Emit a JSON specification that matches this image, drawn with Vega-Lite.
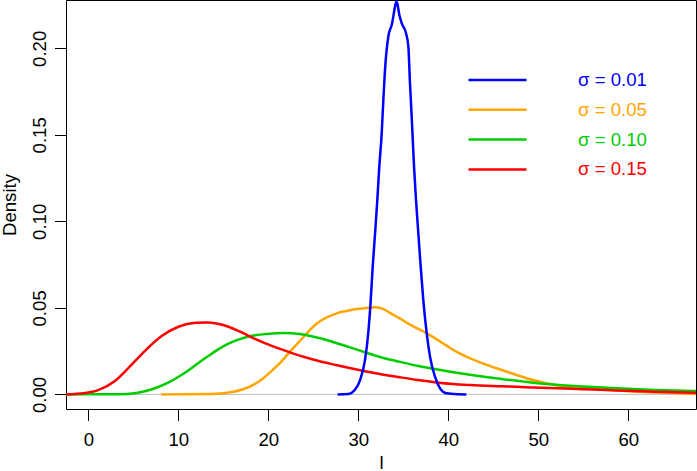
{
  "$schema": "https://vega.github.io/schema/vega-lite/v6.json",
  "width": 630,
  "height": 409,
  "autosize": "none",
  "padding": {"left": 66, "top": 0, "right": 1, "bottom": 62},
  "background": "white",
  "config": {
    "view": {"stroke": "black", "strokeWidth": 1},
    "font": "Liberation Sans",
    "axis": {
      "grid": false,
      "domain": false,
      "ticks": true,
      "tickColor": "black",
      "tickSize": 11.5,
      "tickWidth": 1,
      "labelFont": "Liberation Sans",
      "labelFontSize": 18.6,
      "labelColor": "black",
      "labelFlush": false,
      "labelOverlap": false,
      "labelBound": false,
      "titleFont": "Liberation Sans",
      "titleFontSize": 18.6,
      "titleFontWeight": "normal",
      "titleColor": "black"
    }
  },
  "encoding": {
    "y": {
      "field": "y",
      "type": "quantitative",
      "title": "Density",
      "scale": {"domain": [-0.00844, 0.22792], "nice": false, "zero": false},
      "axis": {
        "values": [0, 0.05, 0.1, 0.15, 0.2],
        "format": ".2f",
        "labelAngle": -90,
        "labelAlign": "center",
        "labelBaseline": "alphabetic",
        "labelPadding": 9.2,
        "titleAngle": -90,
        "titleAlign": "center",
        "titleBaseline": "alphabetic",
        "titleX": -50.5,
        "titleY": 204.5
      }
    }
  },
  "layer": [
    {
      "data": {"values": [{"y": 0}]},
      "mark": {"type": "rule", "color": "#BEBEBE", "strokeWidth": 1},
      "encoding": {}
    },
    {
      "data": {"values": [
        {"s": "σ = 0.05", "x": 8.1, "y": 0},
        {"s": "σ = 0.05", "x": 10, "y": 0.00003},
        {"s": "σ = 0.05", "x": 13.5, "y": 0.0002},
        {"s": "σ = 0.05", "x": 15, "y": 0.0007},
        {"s": "σ = 0.05", "x": 16.1, "y": 0.0015},
        {"s": "σ = 0.05", "x": 17.2, "y": 0.003},
        {"s": "σ = 0.05", "x": 18.3, "y": 0.0054},
        {"s": "σ = 0.05", "x": 19.3, "y": 0.0088},
        {"s": "σ = 0.05", "x": 20.2, "y": 0.0128},
        {"s": "σ = 0.05", "x": 21.5, "y": 0.0192},
        {"s": "σ = 0.05", "x": 22.4, "y": 0.0246},
        {"s": "σ = 0.05", "x": 23.7, "y": 0.032},
        {"s": "σ = 0.05", "x": 24.6, "y": 0.0372},
        {"s": "σ = 0.05", "x": 25.4, "y": 0.041},
        {"s": "σ = 0.05", "x": 26.5, "y": 0.0445},
        {"s": "σ = 0.05", "x": 27.6, "y": 0.0468},
        {"s": "σ = 0.05", "x": 28.7, "y": 0.0482},
        {"s": "σ = 0.05", "x": 29.8, "y": 0.0493},
        {"s": "σ = 0.05", "x": 30.9, "y": 0.0499},
        {"s": "σ = 0.05", "x": 31.9, "y": 0.0503},
        {"s": "σ = 0.05", "x": 32.8, "y": 0.0493},
        {"s": "σ = 0.05", "x": 33.7, "y": 0.0465},
        {"s": "σ = 0.05", "x": 34.6, "y": 0.0439},
        {"s": "σ = 0.05", "x": 35.6, "y": 0.0408},
        {"s": "σ = 0.05", "x": 36.6, "y": 0.038},
        {"s": "σ = 0.05", "x": 37.6, "y": 0.0353},
        {"s": "σ = 0.05", "x": 38.5, "y": 0.0325},
        {"s": "σ = 0.05", "x": 39.4, "y": 0.0296},
        {"s": "σ = 0.05", "x": 40.2, "y": 0.0268},
        {"s": "σ = 0.05", "x": 41.3, "y": 0.0236},
        {"s": "σ = 0.05", "x": 42.5, "y": 0.0207},
        {"s": "σ = 0.05", "x": 43.9, "y": 0.0178},
        {"s": "σ = 0.05", "x": 45.7, "y": 0.0145},
        {"s": "σ = 0.05", "x": 47.6, "y": 0.0112},
        {"s": "σ = 0.05", "x": 49.4, "y": 0.0083},
        {"s": "σ = 0.05", "x": 51.3, "y": 0.006},
        {"s": "σ = 0.05", "x": 53.2, "y": 0.0044},
        {"s": "σ = 0.05", "x": 55, "y": 0.0035},
        {"s": "σ = 0.05", "x": 58, "y": 0.0025},
        {"s": "σ = 0.05", "x": 60.6, "y": 0.0017},
        {"s": "σ = 0.05", "x": 64.3, "y": 0.0009},
        {"s": "σ = 0.05", "x": 67.6, "y": 0.0002},

        {"s": "σ = 0.10", "x": -2.6, "y": 0},
        {"s": "σ = 0.10", "x": 0, "y": 0.00002},
        {"s": "σ = 0.10", "x": 2, "y": 0.0001},
        {"s": "σ = 0.10", "x": 4.3, "y": 0.0003},
        {"s": "σ = 0.10", "x": 5.5, "y": 0.001},
        {"s": "σ = 0.10", "x": 6.5, "y": 0.0021},
        {"s": "σ = 0.10", "x": 7.6, "y": 0.004},
        {"s": "σ = 0.10", "x": 8.7, "y": 0.0064},
        {"s": "σ = 0.10", "x": 9.8, "y": 0.0095},
        {"s": "σ = 0.10", "x": 10.9, "y": 0.0131},
        {"s": "σ = 0.10", "x": 12, "y": 0.0173},
        {"s": "σ = 0.10", "x": 13.2, "y": 0.0217},
        {"s": "σ = 0.10", "x": 14.3, "y": 0.0256},
        {"s": "σ = 0.10", "x": 15.4, "y": 0.0289},
        {"s": "σ = 0.10", "x": 16.5, "y": 0.0314},
        {"s": "σ = 0.10", "x": 17.6, "y": 0.0332},
        {"s": "σ = 0.10", "x": 18.7, "y": 0.0343},
        {"s": "σ = 0.10", "x": 19.8, "y": 0.0349},
        {"s": "σ = 0.10", "x": 21.7, "y": 0.0355},
        {"s": "σ = 0.10", "x": 23.5, "y": 0.0349},
        {"s": "σ = 0.10", "x": 25.4, "y": 0.0329},
        {"s": "σ = 0.10", "x": 27.2, "y": 0.0303},
        {"s": "σ = 0.10", "x": 29, "y": 0.0273},
        {"s": "σ = 0.10", "x": 30.9, "y": 0.0241},
        {"s": "σ = 0.10", "x": 32.7, "y": 0.0212},
        {"s": "σ = 0.10", "x": 34.6, "y": 0.0188},
        {"s": "σ = 0.10", "x": 36.4, "y": 0.0167},
        {"s": "σ = 0.10", "x": 38.3, "y": 0.0148},
        {"s": "σ = 0.10", "x": 40.2, "y": 0.0131},
        {"s": "σ = 0.10", "x": 42.4, "y": 0.0113},
        {"s": "σ = 0.10", "x": 44.6, "y": 0.0097},
        {"s": "σ = 0.10", "x": 46.9, "y": 0.0083},
        {"s": "σ = 0.10", "x": 49, "y": 0.007},
        {"s": "σ = 0.10", "x": 51.3, "y": 0.0058},
        {"s": "σ = 0.10", "x": 55, "y": 0.0045},
        {"s": "σ = 0.10", "x": 58.7, "y": 0.0035},
        {"s": "σ = 0.10", "x": 63, "y": 0.0026},
        {"s": "σ = 0.10", "x": 67.6, "y": 0.0019},

        {"s": "σ = 0.15", "x": -2.6, "y": 0},
        {"s": "σ = 0.15", "x": -0.9, "y": 0.0005},
        {"s": "σ = 0.15", "x": 1.1, "y": 0.0025},
        {"s": "σ = 0.15", "x": 3, "y": 0.0079},
        {"s": "σ = 0.15", "x": 4.6, "y": 0.016},
        {"s": "σ = 0.15", "x": 6.3, "y": 0.0252},
        {"s": "σ = 0.15", "x": 8.15, "y": 0.0337},
        {"s": "σ = 0.15", "x": 10, "y": 0.0391},
        {"s": "σ = 0.15", "x": 11.9, "y": 0.0414},
        {"s": "σ = 0.15", "x": 13.3, "y": 0.0416},
        {"s": "σ = 0.15", "x": 15, "y": 0.0401},
        {"s": "σ = 0.15", "x": 16.9, "y": 0.0362},
        {"s": "σ = 0.15", "x": 18.7, "y": 0.0316},
        {"s": "σ = 0.15", "x": 20.6, "y": 0.0276},
        {"s": "σ = 0.15", "x": 22.4, "y": 0.0243},
        {"s": "σ = 0.15", "x": 24, "y": 0.0216},
        {"s": "σ = 0.15", "x": 25.5, "y": 0.0194},
        {"s": "σ = 0.15", "x": 27.5, "y": 0.017},
        {"s": "σ = 0.15", "x": 30.2, "y": 0.014},
        {"s": "σ = 0.15", "x": 32.4, "y": 0.0118},
        {"s": "σ = 0.15", "x": 34.6, "y": 0.0099},
        {"s": "σ = 0.15", "x": 36.6, "y": 0.0083},
        {"s": "σ = 0.15", "x": 38.7, "y": 0.0069},
        {"s": "σ = 0.15", "x": 40.5, "y": 0.006},
        {"s": "σ = 0.15", "x": 42.4, "y": 0.0054},
        {"s": "σ = 0.15", "x": 45.7, "y": 0.0047},
        {"s": "σ = 0.15", "x": 48.5, "y": 0.0042},
        {"s": "σ = 0.15", "x": 51.3, "y": 0.0037},
        {"s": "σ = 0.15", "x": 55, "y": 0.003},
        {"s": "σ = 0.15", "x": 58.7, "y": 0.0023},
        {"s": "σ = 0.15", "x": 63, "y": 0.0016},
        {"s": "σ = 0.15", "x": 67.6, "y": 0.0009},

        {"s": "σ = 0.01", "x": 27.7, "y": 0},
        {"s": "σ = 0.01", "x": 28.9, "y": 0.0002},
        {"s": "σ = 0.01", "x": 29.6, "y": 0.0025},
        {"s": "σ = 0.01", "x": 30.2, "y": 0.0083},
        {"s": "σ = 0.01", "x": 30.74, "y": 0.0198},
        {"s": "σ = 0.01", "x": 31.1, "y": 0.0353},
        {"s": "σ = 0.01", "x": 31.38, "y": 0.0545},
        {"s": "σ = 0.01", "x": 31.6, "y": 0.0738},
        {"s": "σ = 0.01", "x": 31.86, "y": 0.093},
        {"s": "σ = 0.01", "x": 32.11, "y": 0.1123},
        {"s": "σ = 0.01", "x": 32.33, "y": 0.1316},
        {"s": "σ = 0.01", "x": 32.6, "y": 0.151},
        {"s": "σ = 0.01", "x": 32.78, "y": 0.17},
        {"s": "σ = 0.01", "x": 32.99, "y": 0.1894},
        {"s": "σ = 0.01", "x": 33.33, "y": 0.2067},
        {"s": "σ = 0.01", "x": 33.71, "y": 0.2135},
        {"s": "σ = 0.01", "x": 34.27, "y": 0.227},
        {"s": "σ = 0.01", "x": 34.56, "y": 0.2192},
        {"s": "σ = 0.01", "x": 34.82, "y": 0.2145},
        {"s": "σ = 0.01", "x": 35.3, "y": 0.2087},
        {"s": "σ = 0.01", "x": 35.56, "y": 0.201},
        {"s": "σ = 0.01", "x": 35.74, "y": 0.1798},
        {"s": "σ = 0.01", "x": 35.93, "y": 0.1605},
        {"s": "σ = 0.01", "x": 36.19, "y": 0.1316},
        {"s": "σ = 0.01", "x": 36.41, "y": 0.1123},
        {"s": "σ = 0.01", "x": 36.67, "y": 0.093},
        {"s": "σ = 0.01", "x": 36.93, "y": 0.0738},
        {"s": "σ = 0.01", "x": 37.22, "y": 0.0545},
        {"s": "σ = 0.01", "x": 37.6, "y": 0.0353},
        {"s": "σ = 0.01", "x": 37.97, "y": 0.0217},
        {"s": "σ = 0.01", "x": 38.52, "y": 0.0102},
        {"s": "σ = 0.01", "x": 39.08, "y": 0.0035},
        {"s": "σ = 0.01", "x": 39.8, "y": 0.0006},
        {"s": "σ = 0.01", "x": 41, "y": 0.0001},
        {"s": "σ = 0.01", "x": 42, "y": 0}
      ]},
      "mark": {"type": "line", "strokeWidth": 2.5, "clip": true, "interpolate": "monotone"},
      "encoding": {
        "x": {
          "field": "x",
          "type": "quantitative",
          "title": "l",
          "scale": {"domain": [-2.48, 67.52], "nice": false, "zero": false},
          "axis": {
            "values": [0, 10, 20, 30, 40, 50, 60],
            "labelBaseline": "alphabetic",
            "labelPadding": 25.2,
            "titleBaseline": "alphabetic",
            "titleY": 59,
            "titleX": 315
          }
        },
        "color": {
          "field": "s",
          "type": "nominal",
          "scale": {
            "domain": ["σ = 0.01", "σ = 0.05", "σ = 0.10", "σ = 0.15"],
            "range": ["#0000FF", "#FFA500", "#00CD00", "#FF0000"]
          },
          "legend": {
            "orient": "none",
            "legendX": 401,
            "legendY": 70,
            "title": null,
            "padding": 0,
            "symbolType": "stroke",
            "symbolSize": 3364,
            "symbolStrokeWidth": 2.5,
            "clipHeight": 20,
            "rowPadding": 9.8,
            "labelOffset": 50,
            "labelFont": "Liberation Sans",
            "labelFontSize": 18.6,
            "labelBaseline": "middle",
            "encode": {"labels": {"update": {"fill": {"scale": "color", "field": "value"}}}}
          }
        }
      }
    }
  ]
}
